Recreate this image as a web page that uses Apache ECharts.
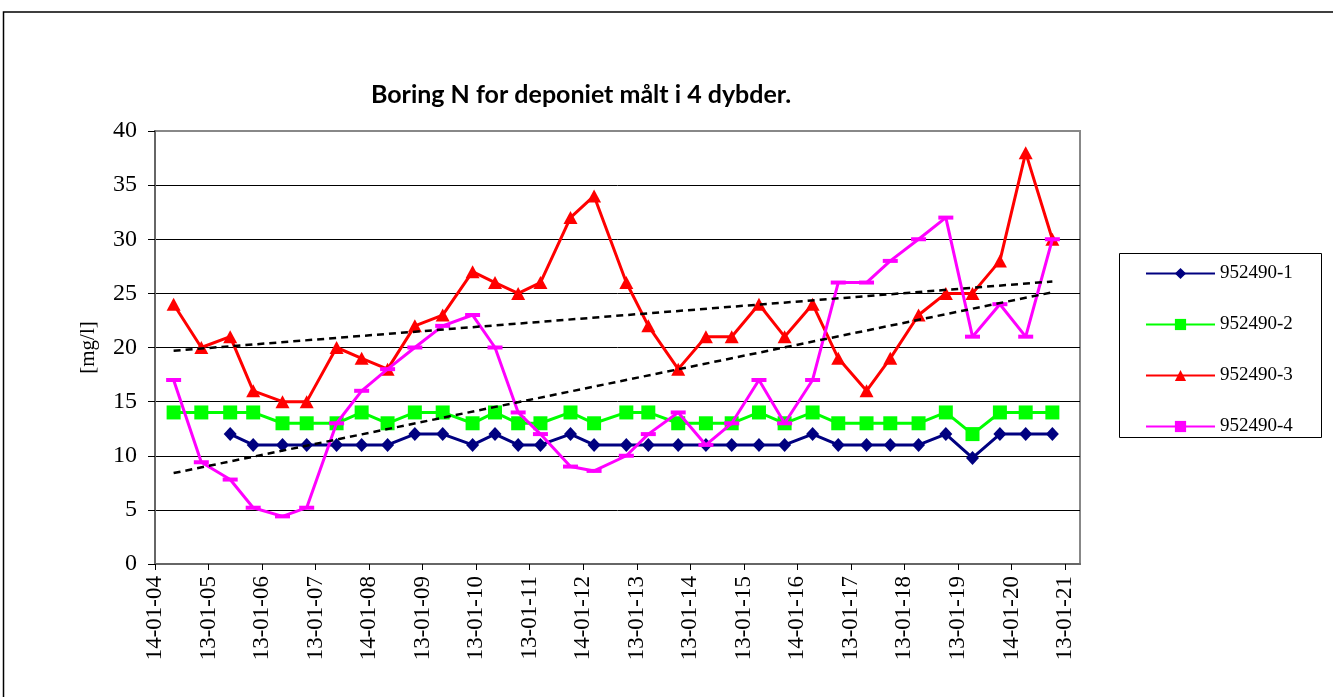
<!DOCTYPE html>
<html>
<head>
<meta charset="utf-8">
<script src="https://cdn.jsdelivr.net/npm/echarts@6/dist/echarts.min.js"></script>
<style>
html,body{margin:0;padding:0;background:#fff;}
#chart{width:1333px;height:697px;}
</style>
</head>
<body>
<div id="chart"></div>
<script>
// ---- data ----
const titleText = 'Boring N for deponiet målt i 4 dybder.';
const yAxisName = '[mg/l]';
const seriesNames = ['952490-1', '952490-2', '952490-3', '952490-4'];
const tickLabels = ['14-01-04','13-01-05','13-01-06','13-01-07','14-01-08','13-01-09','13-01-10','13-01-11','14-01-12',
  '13-01-13','13-01-14','13-01-15','14-01-16','13-01-17','13-01-18','13-01-19','14-01-20','13-01-21'];
const sampleDates = ['2004-05-20','2004-11-25','2005-06-10','2005-11-14','2006-06-02','2006-11-14','2007-06-06','2007-11-24',
  '2008-05-19','2008-11-21','2009-05-30','2009-12-20','2010-05-22','2010-10-27','2011-03-28','2011-10-19',
  '2012-03-28','2012-11-03','2013-04-02','2013-10-23','2014-04-30','2014-10-23','2015-04-27','2015-10-19',
  '2016-04-27','2016-10-19','2017-04-30','2017-10-09','2018-04-20','2018-10-23','2019-04-23','2019-10-27',
  '2020-04-20','2020-10-19'];
const s1 = [null,null,12,11,11,11,11,11,11,12,12,11,12,11,11,12,11,11,11,11,11,11,11,11,12,11,11,11,11,12,9.8,12,12,12];
const s2 = [14,14,14,14,13,13,13,14,13,14,14,13,14,13,13,14,13,14,14,13,13,13,14,13,14,13,13,13,13,14,12,14,14,14];
const s3 = [24,20,21,16,15,15,20,19,18,22,23,27,26,25,26,32,34,26,22,18,21,21,24,21,24,19,16,19,23,25,25,28,38,30];
const s4 = [17,9.4,7.8,5.2,4.4,5.2,13,16,18,20,22,23,20,14,12,9,8.6,10,12,14,11,13,17,13,17,26,26,28,30,32,21,24,21,30];
// linear trendlines (start / end values, at first and last sample dates)
const trend3 = [19.7, 26.1];
const trend4 = [8.4, 25.1];
const xStart = '2004-01-14';
const yearMs = 365.25 * 86400000;

// ---- build ----
const xMin = new Date(xStart).getTime();
const xMax = xMin + 17.28 * yearMs;
const tickValues = tickLabels.map((_, i) => xMin + i * yearMs);
const xs = sampleDates.map(d => new Date(d).getTime());
function pairs(vals){ return vals.map((v,i) => [xs[i], v]); }
function trendPts(t){ return [[xs[0], t[0]], [xs[xs.length-1], t[1]]]; }
const serif = '"Liberation Serif", "Times New Roman", serif';
const chart = echarts.init(document.getElementById('chart'), null, {renderer:'canvas'});
const trendStyle = {color:'#000', width:2.5, type:[7,5]};
chart.setOption({
  animation:false,
  backgroundColor:'#fff',
  title:{text:titleText, left:576, top:77, textAlign:'center',
    textStyle:{fontFamily:'Lato, "Open Sans", sans-serif', fontWeight:'bold', fontSize:25, color:'#000'}},
  grid:{left:155, right:253, top:131, bottom:133, show:true, borderColor:'#888', borderWidth:2, containLabel:false},
  legend:{orient:'vertical', left:1140, top:259, itemWidth:69, itemHeight:14, itemGap:32,
    data:seriesNames, textStyle:{fontFamily:serif, fontSize:19, color:'#000'}},
  graphic:[
    {type:'rect', shape:{x:1119.5, y:253.5, width:202, height:184}, style:{fill:'none', stroke:'#000', lineWidth:1}, z:-1},
    {type:'rect', shape:{x:3.5, y:12, width:1345, height:720}, style:{fill:'none', stroke:'#000', lineWidth:1.5}, z:-1}
  ],
  xAxis:{type:'value', min:xMin, max:xMax,
    axisLine:{show:true, lineStyle:{color:'#666', width:2}},
    axisTick:{show:true, length:6, customValues:tickValues, lineStyle:{color:'#000', width:1}},
    axisLabel:{customValues:tickValues, rotate:90, margin:12, fontFamily:serif, fontSize:23, color:'#000',
      formatter:function(v){ return tickLabels[Math.round((v - xMin)/yearMs)]; }},
    splitLine:{show:false}},
  yAxis:{type:'value', min:0, max:40, interval:5, name:yAxisName, nameLocation:'middle', nameGap:56,
    nameTextStyle:{fontFamily:serif, fontSize:21, color:'#000'},
    axisLine:{show:true, lineStyle:{color:'#666', width:2}},
    axisTick:{show:true, length:7, lineStyle:{color:'#000', width:1}},
    axisLabel:{margin:18, fontFamily:serif, fontSize:24, color:'#000'},
    splitLine:{show:true, showMaxLine:false, lineStyle:{color:'#000', width:1}}},
  series:[
    {name:seriesNames[0], type:'line', data:pairs(s1), color:'#000080', symbol:'diamond', symbolSize:[13,14],
      lineStyle:{width:3}, connectNulls:false, z:3},
    {name:seriesNames[1], type:'line', data:pairs(s2), color:'#00FF00', symbol:'rect', symbolSize:14,
      lineStyle:{width:3}, z:4},
    {name:seriesNames[2], type:'line', data:pairs(s3), color:'#FF0000', symbol:'triangle', symbolSize:[14,13],
      lineStyle:{width:3}, z:5},
    {name:seriesNames[3], type:'line', data:pairs(s4), color:'#FF00FF', symbol:'rect',
      symbolSize:[15,4], lineStyle:{width:3}, z:6},
    {name:'trend3', type:'line', data:trendPts(trend3), symbol:'none', silent:true, lineStyle:trendStyle, z:7},
    {name:'trend4', type:'line', data:trendPts(trend4), symbol:'none', silent:true, lineStyle:trendStyle, z:7}
  ]
});
</script>
</body>
</html>
